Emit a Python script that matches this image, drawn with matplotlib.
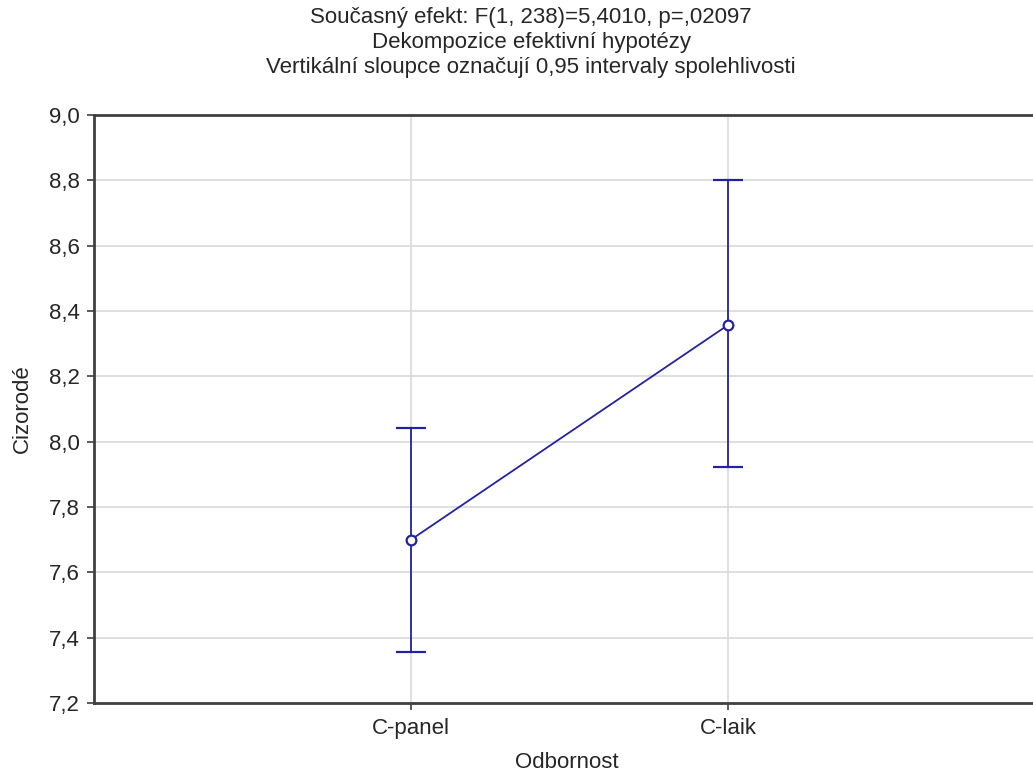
import matplotlib
matplotlib.use("Agg")
import matplotlib.pyplot as plt
import numpy as np

categories = ["C-panel", "C-laik"]
means = [7.70, 8.357]
lower = [7.357, 7.922]
upper = [8.043, 8.802]
yticks = [7.2, 7.4, 7.6, 7.8, 8.0, 8.2, 8.4, 8.6, 8.8, 9.0]
title_lines = ["Současný efekt: F(1, 238)=5,4010, p=,02097",
               "Dekompozice efektivní hypotézy",
               "Vertikální sloupce označují 0,95 intervaly spolehlivosti"]

plt.rcParams['font.family'] = ['Liberation Sans', 'DejaVu Sans']
W, H = 1033, 778
fig = plt.figure(figsize=(W/100, H/100), dpi=100)
left, right, top, bottom = 94, 1045, 115, 703
ax = fig.add_axes([left/W, 1 - bottom/H, (right-left)/W, (bottom-top)/H])

color = "#2323a0"
txt = "#262626"
x = np.arange(1, len(categories)+1)
m = np.array(means)
yerr = [m - np.array(lower), np.array(upper) - m]
ax.errorbar(x, m, yerr=yerr, color=color, lw=1.3, capsize=11, capthick=1.3,
            marker='o', ms=7, mfc='white', mec=color, mew=1.6, zorder=3)

ax.set_xlim(0, 3)
ax.set_ylim(7.2, 9.0)
ax.set_xticks(x)
ax.set_xticklabels(categories)
ax.set_yticks(yticks)
ax.set_yticklabels([f"{v:.1f}".replace('.', ',') for v in yticks])
ax.grid(True, color="#d9d9d9", lw=1.2)
ax.set_axisbelow(True)
for s in ['left', 'top', 'bottom']:
    ax.spines[s].set_color('#404040')
    ax.spines[s].set_linewidth(2)
ax.spines['right'].set_visible(False)
ax.tick_params(axis='both', labelsize=16, length=5, width=1.2, color='#404040', labelcolor=txt)
ax.tick_params(axis='x', pad=6)
ax.tick_params(axis='y', pad=5)
ax.set_xlabel("Odbornost", fontsize=16, color=txt, va='center')
ax.xaxis.set_label_coords((567 - left) / (right - left), -(763 - bottom) / (bottom - top))
ax.set_ylabel("Cizorodé", fontsize=16, color=txt, va='center')
ax.yaxis.set_label_coords(-(left - 22) / (right - left), 0.5)

for i, t in enumerate(title_lines):
    fig.text(531/W, 1 - (17 + 25.5*i)/H, t, ha='center', va='center', fontsize=16, color=txt)

fig.savefig("out.png", dpi=100)
